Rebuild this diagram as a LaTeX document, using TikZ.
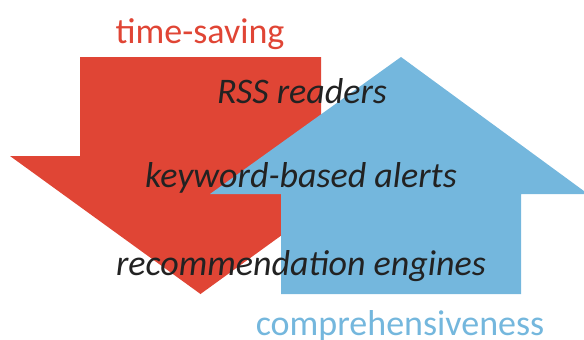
\documentclass[tikz,border=0pt]{standalone}
\usepackage{fontspec}
\setmainfont{Carlito}
\definecolor{arrowred}{HTML}{E04535}
\definecolor{arrowblue}{HTML}{74B7DD}
\definecolor{inktext}{HTML}{222222}
\begin{document}
\begin{tikzpicture}[x=1pt,y=-1pt,
  label/.style={inner sep=0pt, anchor=base, font=\fontsize{36}{36}\selectfont},
  item/.style={label, text=inktext, font=\fontsize{36}{36}\selectfont\itshape}]
  \useasboundingbox (0,0) rectangle (584,340);
  \clip (0,0) rectangle (584,340);
  % downward arrow (time-saving)
  \fill[arrowred] (80,57) -- (321,57) -- (321,156) -- (391,156) -- (200.5,294)
    -- (10,156) -- (80,156) -- cycle;
  % upward arrow (comprehensiveness), drawn on top
  \fill[arrowblue] (281,294) -- (521,294) -- (521,194) -- (588,194) -- (401,57)
    -- (210,194) -- (281,194) -- cycle;
  % axis captions
  \node[label, text=arrowred] (timesaving) at (200,43) {time-saving};
  \node[label, text=arrowblue] (compr) at (400,335) {comprehensiveness};
  % approaches
  \node[item] (rss) at (302,103) {RSS readers};
  \node[item] (kw) at (301,187) {keyword-based alerts};
  \node[item] (rec) at (301,275) {recommendation engines};
\end{tikzpicture}
\end{document}
